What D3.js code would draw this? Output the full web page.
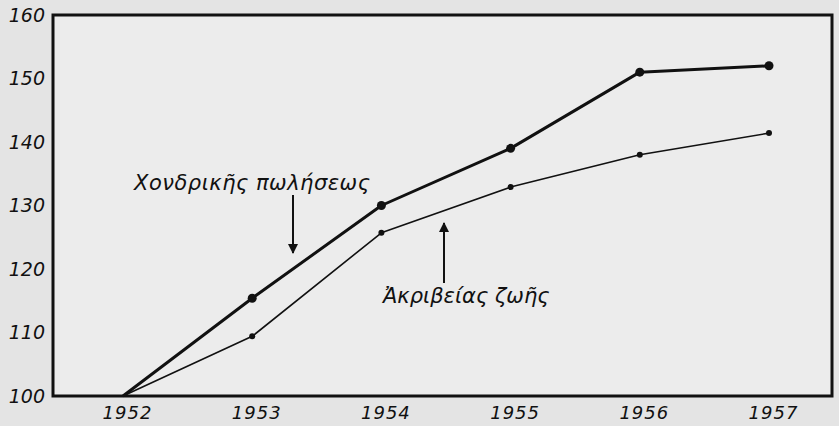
<html>
<head>
<meta charset="utf-8">
<script src="https://d3js.org/d3.v7.min.js"></script>
<style>
  body { margin: 0; background: #e6e6e6; }
  svg { font-family: "DejaVu Sans", sans-serif; font-style: italic; }
  .tick text { fill: #111; font-style: italic; }
  .note { font-size: 21px; fill: #111; }
</style>
</head>
<body>
<div id="chart"></div>
<script>
// index values (1952 = 100)
var years = [1952, 1953, 1954, 1955, 1956, 1957];
var wholesale = [100, 115.4, 130, 139, 151, 152];     // Χονδρικῆς πωλήσεως
var costOfLiving = [100, 109.4, 125.7, 132.9, 138, 141.4]; // Ἀκριβείας ζωῆς
var yTicks = [100, 110, 120, 130, 140, 150, 160];

var width = 839, height = 426;
var box = {left: 53, top: 15, right: 832, bottom: 396};

var svg = d3.select("#chart").append("svg")
    .attr("width", width)
    .attr("height", height);

svg.append("rect")
    .attr("x", 0).attr("y", 0)
    .attr("width", width).attr("height", height)
    .attr("fill", "#e4e4e4");

svg.append("rect")
    .attr("x", box.left).attr("y", box.top)
    .attr("width", box.right - box.left)
    .attr("height", box.bottom - box.top)
    .attr("fill", "#ececec")
    .attr("stroke", "#111")
    .attr("stroke-width", 3);

var x = d3.scaleLinear().domain([1952, 1957]).range([123, 769]);
var y = d3.scaleLinear().domain([100, 160]).range([box.bottom, box.top]);

// axes (labels only, the frame is the box)
var yAxis = svg.append("g")
    .attr("transform", `translate(${box.left - 8},0)`)
    .call(d3.axisLeft(y).tickValues(yTicks).tickSize(0).tickPadding(0))
    .attr("font-family", "DejaVu Sans")
    .attr("font-style", "italic")
    .attr("font-size", 19);
yAxis.select(".domain").remove();

var xAxis = svg.append("g")
    .attr("transform", `translate(0,${box.bottom + 6})`)
    .call(d3.axisBottom(x).tickValues(years).tickFormat(d3.format("d")).tickSize(0).tickPadding(4))
    .attr("font-family", "DejaVu Sans")
    .attr("font-style", "italic")
    .attr("font-size", 18);
xAxis.select(".domain").remove();
xAxis.selectAll("text").attr("dx", 4).style("letter-spacing", "1px");

var line = d3.line()
    .x(function(d) { return x(d.year); })
    .y(function(d) { return y(d.v); });

var series = [
    {values: wholesale, width: 3, r: 4.5},
    {values: costOfLiving, width: 1.6, r: 3}
];

series.forEach(function(s) {
    var pts = years.map(function(yr, i) { return {year: yr, v: s.values[i]}; });
    svg.append("path")
        .attr("d", line(pts))
        .attr("fill", "none")
        .attr("stroke", "#111")
        .attr("stroke-width", s.width)
        .attr("stroke-linejoin", "round");
    svg.selectAll(null)
        .data(pts.slice(1)).enter()
        .append("circle")
        .attr("cx", function(d) { return x(d.year); })
        .attr("cy", function(d) { return y(d.v); })
        .attr("r", s.r)
        .attr("fill", "#111");
});

// annotations with arrows
svg.append("defs").append("marker")
    .attr("id", "head")
    .attr("viewBox", "0 0 10 10")
    .attr("refX", 9).attr("refY", 5)
    .attr("markerWidth", 5).attr("markerHeight", 6)
    .attr("orient", "auto")
    .append("path")
    .attr("d", "M0,0 L10,5 L0,10 z")
    .attr("fill", "#111");

svg.append("text")
    .attr("class", "note")
    .attr("x", 134).attr("y", 190)
    .style("letter-spacing", "0.5px")
    .text("Χονδρικῆς πωλήσεως");
svg.append("line")
    .attr("x1", 293).attr("y1", 195)
    .attr("x2", 293).attr("y2", 253)
    .attr("stroke", "#111").attr("stroke-width", 2)
    .attr("marker-end", "url(#head)");

svg.append("text")
    .attr("class", "note")
    .attr("x", 383).attr("y", 303)
    .text("Ἀκριβείας ζωῆς");
svg.append("line")
    .attr("x1", 444).attr("y1", 283)
    .attr("x2", 444).attr("y2", 223)
    .attr("stroke", "#111").attr("stroke-width", 2)
    .attr("marker-end", "url(#head)");
</script>
</body>
</html>
